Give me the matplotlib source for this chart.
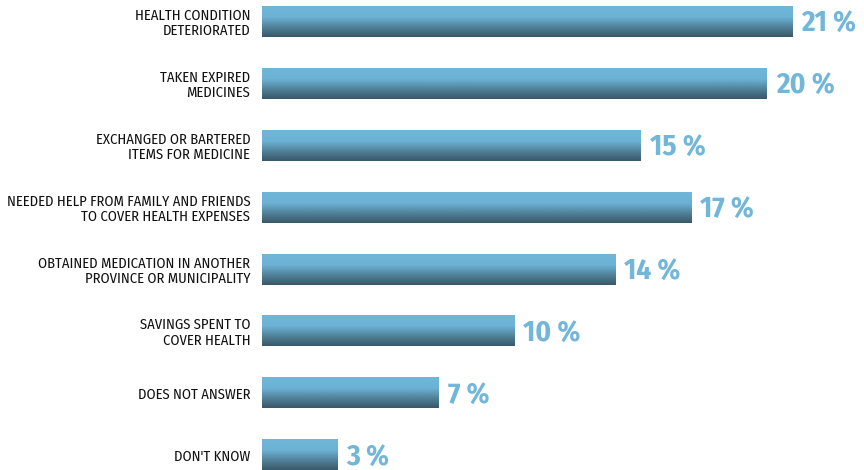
import matplotlib
matplotlib.use('Agg')
import matplotlib.pyplot as plt
import numpy as np
import logging
from matplotlib.colors import LinearSegmentedColormap

labels = [
    'HEALTH CONDITION\nDETERIORATED',
    'TAKEN EXPIRED\nMEDICINES',
    'EXCHANGED OR BARTERED\nITEMS FOR MEDICINE',
    'NEEDED HELP FROM FAMILY AND FRIENDS\nTO COVER HEALTH EXPENSES',
    'OBTAINED MEDICATION IN ANOTHER\nPROVINCE OR MUNICIPALITY',
    'SAVINGS SPENT TO\nCOVER HEALTH',
    'DOES NOT ANSWER',
    "DON'T KNOW",
]
values = [21, 20, 15, 17, 14, 10, 7, 3]

fonts = ['Fira Sans Condensed', 'Barlow Semi Condensed', 'Asap Condensed', 'DejaVu Sans']
logging.getLogger('matplotlib.font_manager').setLevel(logging.ERROR)

# light blue on top, fading to slate at the bottom
grad = LinearSegmentedColormap.from_list('bar', [
    (0.0, '#6fb6d9'), (0.35, '#6cb2d4'), (0.7, '#4f7f96'), (1.0, '#3a5869')])

fig = plt.figure(figsize=(8.64, 4.70), dpi=100)
ax = fig.add_axes([262 / 864, 0, 600 / 864, 1])
ax.set_xlim(0, 600 / 25.25)
ax.set_ylim(7.245, -0.347)
ax.axis('off')

h = 0.5
g = np.linspace(0, 1, 64).reshape(-1, 1)
for i, (lab, v) in enumerate(zip(labels, values)):
    ax.imshow(g, cmap=grad, aspect='auto', extent=[0, v, i + h / 2, i - h / 2],
              interpolation='bilinear', zorder=2)
    ax.text(-0.47, i + 0.03, lab, ha='right', va='center', fontsize=10.5,
            family=fonts, linespacing=1.08, color='#111111')
    ax.text(v + 0.35, i + 0.03, f'{v} %', ha='left', va='center', fontsize=21,
            family=fonts, fontweight='bold', color='#72b6d9')

fig.savefig('out.png', dpi=100)
